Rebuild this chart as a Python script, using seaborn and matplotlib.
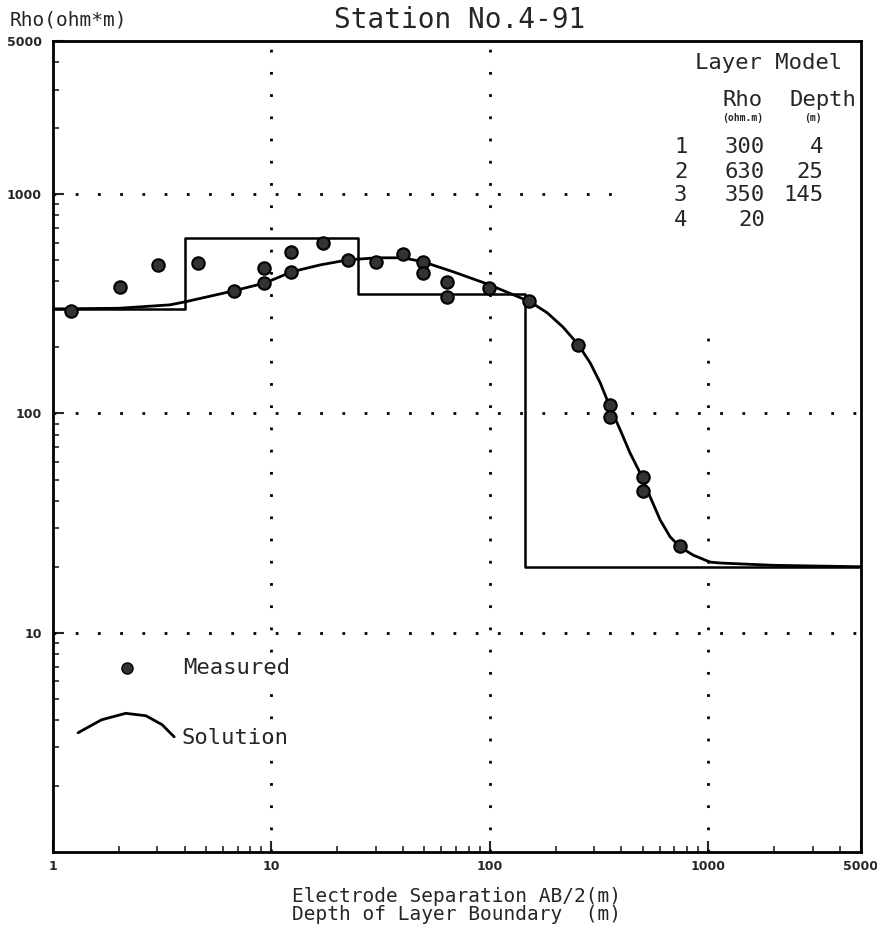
import numpy as np
import pandas as pd
import matplotlib
matplotlib.use('Agg')
import matplotlib.pyplot as plt
import seaborn as sns

# measured apparent resistivity (AB/2 in m, rho in ohm*m)
meas_ab2 = [1.21, 2.03, 3.03, 4.61, 6.74, 9.25, 9.25, 12.3, 12.3, 17.2, 22.4, 30.1, 40.1,
            49.4, 49.4, 63.7, 63.7, 99.1, 151, 254, 355, 355, 503, 503, 743]
meas_rho = [294, 378, 476, 486, 362, 462, 394, 546, 443, 600, 502, 492, 535,
            492, 438, 399, 340, 374, 326, 206, 109, 96.5, 51.4, 44.4, 24.9]

# solution curve
sol_ab2 = [1, 2, 3.43, 4.02, 6.67, 9.35, 12.4, 16.7, 22.4, 30.5, 40, 49.4, 67.9, 97.1,
           128, 153, 183, 216, 254, 288, 320, 355, 395, 438, 487, 542, 602, 668, 743,
           852, 1019, 1132, 2000, 5000]
sol_rho = [300, 302, 313, 323, 362, 394, 443, 476, 502, 513, 513, 492, 443, 390,
           348, 323, 288, 248, 206, 170, 138, 107, 84.2, 66.1, 53.6, 41.6, 32.7, 27.4, 24.6,
           22.6, 21.0, 20.8, 20.3, 20]

# layer model
layer_no = [1, 2, 3, 4]
layer_rho = [300, 630, 350, 20]
layer_depth = [4, 25, 145]

# step line for the model (surface -> bottom of plot)
step_x = [1] + layer_depth + [5000]
step_y = layer_rho + [layer_rho[-1]]

sns.set_style("white")
plt.rcParams['font.family'] = ['DejaVu Sans Mono', 'DejaVu Sans']

fig = plt.figure(figsize=(8.78, 9.38), dpi=100)
ax = fig.add_axes([53/878, 1 - 852/938, 808/878, 811/938])

sol_df = pd.DataFrame({'ab2': sol_ab2, 'rho': sol_rho})
meas_df = pd.DataFrame({'ab2': meas_ab2, 'rho': meas_rho})
step_df = pd.DataFrame({'x': step_x, 'y': step_y})

ax.set_xscale('log')
ax.set_yscale('log')
ax.set_xlim(1, 5000)
ax.set_ylim(1, 5000)

# dotted grid
dots = dict(color='black', lw=2, linestyle=(0, (1, 7)), zorder=1)
ax.axvline(10, **dots)
ax.axvline(100, **dots)
ax.axvline(1000, ymax=0.656, **dots)
ax.axhline(1000, xmax=0.714, **dots)
ax.axhline(100, **dots)
ax.axhline(10, **dots)

ax.plot(step_df['x'], step_df['y'], drawstyle='steps-post', color='black', lw=1.8, zorder=2)
sns.lineplot(data=sol_df, x='ab2', y='rho', ax=ax, color='black', lw=2, sort=False,
             estimator=None, zorder=3)
sns.scatterplot(data=meas_df, x='ab2', y='rho', ax=ax, s=80, color='#333333',
                edgecolor='black', linewidth=1.5, zorder=4)

for s in ax.spines.values():
    s.set_color('black')
    s.set_linewidth(2)

ax.set_xticks([1, 10, 100, 1000, 5000])
ax.set_xticklabels(['1', '10', '100', '1000', '5000'])
ax.set_yticks([10, 100, 1000, 5000])
ax.set_yticklabels(['10', '100', '1000', '5000'])
ax.tick_params(which='major', direction='in', length=8, width=1.5, left=True, bottom=True,
               right=False, top=False, pad=8)
ax.tick_params(which='minor', direction='in', length=4, width=1.2, left=True, bottom=True,
               right=False, top=False)
ax.tick_params(axis='x', which='major', pad=6)
for lab in ax.get_xticklabels() + ax.get_yticklabels():
    lab.set_fontfamily('DejaVu Sans')
    lab.set_fontweight('bold')
    lab.set_fontsize(9)
ax.set_xlabel('Electrode Separation AB/2(m)\nDepth of Layer Boundary  (m)',
              fontsize=14, labelpad=10, linespacing=0.95)
ax.set_ylabel('')

fig.text(0.524, 0.979, 'Station No.4-91', fontsize=20, ha='center', va='center')
fig.text(0.011, 0.979, 'Rho(ohm*m)', fontsize=14, ha='left', va='center')

# layer model table
tr = ax.transAxes
ax.text(0.886, 0.973, 'Layer Model', transform=tr, fontsize=16, ha='center', va='center')
ax.text(0.854, 0.927, 'Rho', transform=tr, fontsize=16, ha='center', va='center')
ax.text(0.953, 0.927, 'Depth', transform=tr, fontsize=16, ha='center', va='center')
ax.text(0.854, 0.905, '(ohm.m)', transform=tr, fontsize=7, fontweight='bold',
        ha='center', va='center')
ax.text(0.941, 0.905, '(m)', transform=tr, fontsize=7, fontweight='bold',
        ha='center', va='center')
row_y = [0.869, 0.838, 0.810, 0.779]
for i, n in enumerate(layer_no):
    ax.text(0.785, row_y[i], str(n), transform=tr, fontsize=16, ha='right', va='center')
    ax.text(0.881, row_y[i], str(layer_rho[i]), transform=tr, fontsize=16, ha='right', va='center')
    if i < len(layer_depth):
        ax.text(0.953, row_y[i], str(layer_depth[i]), transform=tr, fontsize=16,
                ha='right', va='center')

# hand-drawn legend
ax.plot([0.0916], [0.227], 'o', color='#333333', mec='black', ms=8, transform=tr)
ax.text(0.161, 0.227, 'Measured', transform=tr, fontsize=16, ha='left', va='center')
arc_x = [0.031, 0.06, 0.09, 0.115, 0.135, 0.150]
arc_y = [0.147, 0.163, 0.171, 0.168, 0.157, 0.142]
ax.plot(arc_x, arc_y, color='black', lw=2, transform=tr)
ax.text(0.159, 0.141, 'Solution', transform=tr, fontsize=16, ha='left', va='center')

fig.savefig('out.png', dpi=100)
